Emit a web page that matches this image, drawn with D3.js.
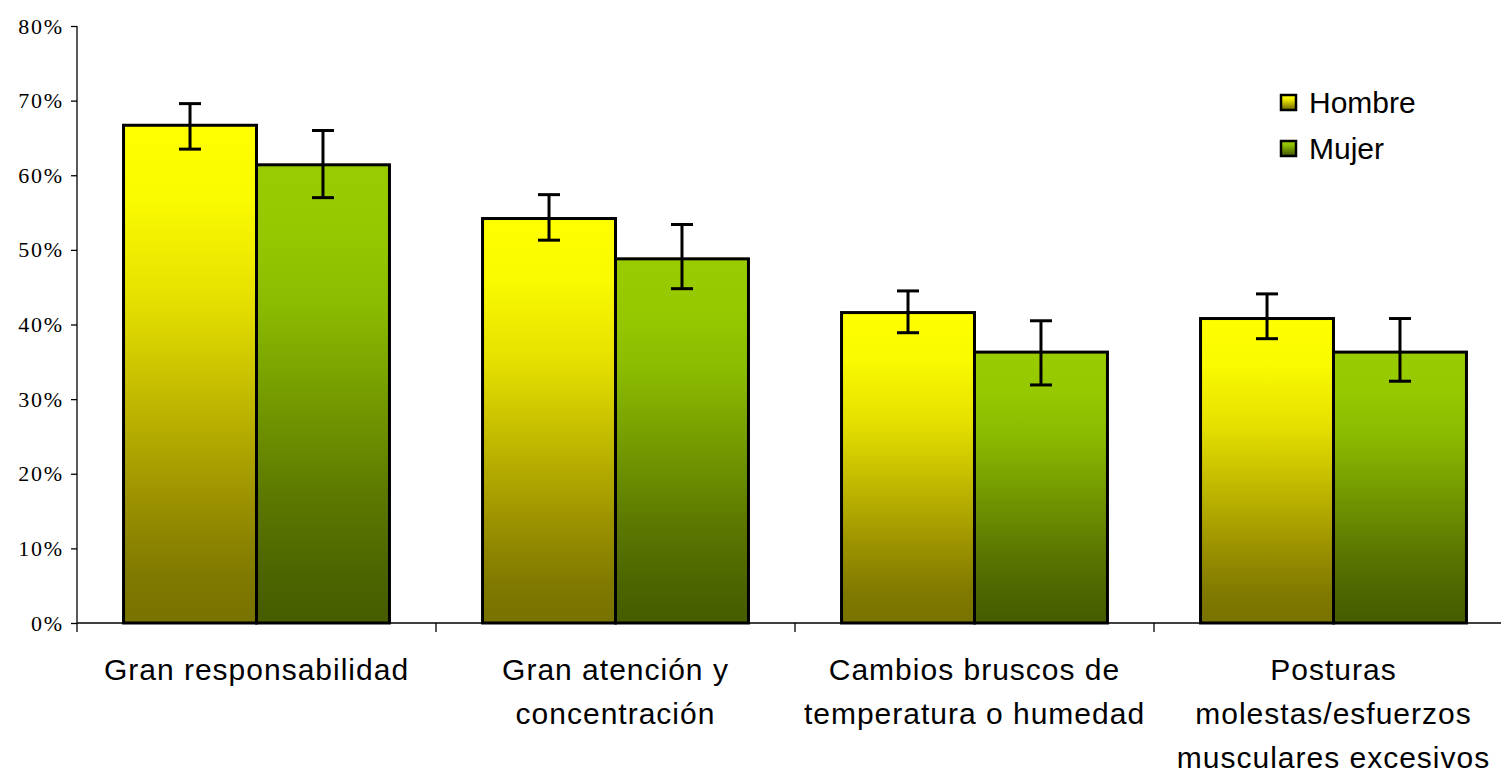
<!DOCTYPE html>
<html>
<head>
<meta charset="utf-8">
<script src="https://cdn.jsdelivr.net/npm/d3@7"></script>
<style>
  html, body { margin: 0; padding: 0; background: #fff; }
  svg { display: block; }
</style>
</head>
<body>
<svg id="chart" width="1501" height="774"></svg>
<script>
// Category labels (each entry is a list of wrapped lines)
const categories = [
  ["Gran responsabilidad"],
  ["Gran atención y", "concentración"],
  ["Cambios bruscos de", "temperatura o humedad"],
  ["Posturas", "molestas/esfuerzos", "musculares excesivos"]
];
const series = ["Hombre", "Mujer"];

// Percentages per category
const hombre = [66.7, 54.2, 41.6, 40.8];
const mujer  = [61.4, 48.8, 36.3, 36.3];

// Error bar bounds (low, high)
const hombreLow  = [63.5, 51.3, 38.9, 38.1];
const hombreHigh = [69.6, 57.4, 44.5, 44.1];
const mujerLow   = [57.0, 44.8, 31.9, 32.4];
const mujerHigh  = [66.0, 53.4, 40.5, 40.8];

const yTicks = [0, 10, 20, 30, 40, 50, 60, 70, 80];

const svg = d3.select("#chart");
const margin = { left: 77, top: 26, bottom: 623, right: 1513 };

const x0 = d3.scaleBand()
  .domain(d3.range(categories.length))
  .range([margin.left, margin.right])
  .paddingInner(0).paddingOuter(0);

const x1 = d3.scaleBand()
  .domain(series)
  .range([0, x0.bandwidth()])
  .paddingInner(0)
  .paddingOuter(0.35);

const y = d3.scaleLinear().domain([0, 80]).range([margin.bottom, margin.top]);

// Gradients for bars and legend swatches
const defs = svg.append("defs");
const grads = {
  Hombre: [[0, "#ffff00"], [0.15, "#fafa00"], [0.35, "#e6e000"], [0.75, "#9c9200"], [0.9, "#807a00"], [1, "#787200"]],
  Mujer: [[0, "#99cc00"], [0.15, "#96c800"], [0.3, "#8cbc00"], [0.73, "#5c7800"], [0.9, "#4c6400"], [1, "#465c00"]]
};
Object.entries(grads).forEach(([k, stops]) => {
  const g = defs.append("linearGradient")
    .attr("id", "grad-" + k)
    .attr("x1", 0).attr("y1", 0).attr("x2", 0).attr("y2", 1);
  stops.forEach(([o, c]) => g.append("stop").attr("offset", o).attr("stop-color", c));
});

// Data table for the grouped bars
const rows = categories.map((c, i) => ({
  i,
  values: [
    { key: "Hombre", v: hombre[i], lo: hombreLow[i], hi: hombreHigh[i] },
    { key: "Mujer", v: mujer[i], lo: mujerLow[i], hi: mujerHigh[i] }
  ]
}));

const groups = svg.append("g").selectAll("g")
  .data(rows).join("g")
  .attr("transform", d => `translate(${x0(d.i)},0)`);

groups.selectAll("rect")
  .data(d => d.values).join("rect")
  .attr("x", d => x1(d.key))
  .attr("y", d => y(d.v))
  .attr("width", x1.bandwidth())
  .attr("height", d => y(0) - y(d.v))
  .attr("fill", d => `url(#grad-${d.key})`)
  .attr("stroke", "#000")
  .attr("stroke-width", 3);

// Error bars
const eb = groups.selectAll("g.err")
  .data(d => d.values).join("g")
  .attr("class", "err")
  .attr("stroke", "#000")
  .attr("stroke-width", 3);
const cx = d => x1(d.key) + x1.bandwidth() / 2;
eb.append("line")
  .attr("x1", cx).attr("x2", cx)
  .attr("y1", d => y(d.lo)).attr("y2", d => y(d.hi));
eb.append("line")
  .attr("x1", d => cx(d) - 11).attr("x2", d => cx(d) + 11)
  .attr("y1", d => y(d.hi)).attr("y2", d => y(d.hi));
eb.append("line")
  .attr("x1", d => cx(d) - 11).attr("x2", d => cx(d) + 11)
  .attr("y1", d => y(d.lo)).attr("y2", d => y(d.lo));

// Y axis
const yAxis = svg.append("g")
  .attr("transform", `translate(${margin.left},0)`)
  .call(d3.axisLeft(y).tickValues(yTicks).tickSize(6).tickSizeOuter(0)
    .tickFormat(d => d + "%"));
yAxis.select(".domain").attr("stroke", "#000").attr("stroke-width", 1.3)
  .attr("d", `M0,${y(0)}V${y(80)}`);
yAxis.selectAll(".tick line").attr("stroke", "#000").attr("stroke-width", 1.3);
yAxis.selectAll(".tick text")
  .attr("x", -13)
  .attr("font-family", "'Liberation Serif', 'Times New Roman', serif")
  .attr("font-size", 22)
  .attr("letter-spacing", "1.8px")
  .attr("fill", "#000");

// X axis line with category separators
const xAxisG = svg.append("g");
xAxisG.append("line")
  .attr("x1", margin.left).attr("x2", 1501)
  .attr("y1", y(0)).attr("y2", y(0))
  .attr("stroke", "#000").attr("stroke-width", 1.3);
xAxisG.selectAll("line.sep")
  .data(d3.range(categories.length + 1)).join("line")
  .attr("class", "sep")
  .attr("x1", i => margin.left + i * x0.step())
  .attr("x2", i => margin.left + i * x0.step())
  .attr("y1", y(0)).attr("y2", y(0) + 9)
  .attr("stroke", "#000").attr("stroke-width", 1.3);

// Category labels
const labels = svg.append("g")
  .attr("font-family", "'Liberation Sans', Arial, sans-serif")
  .attr("font-size", 30)
  .attr("letter-spacing", "1px")
  .attr("fill", "#000")
  .attr("text-anchor", "middle");
categories.forEach((lines, i) => {
  const t = labels.append("text")
    .attr("x", x0(i) + x0.bandwidth() / 2)
    .attr("y", 680);
  lines.forEach((ln, j) => {
    t.append("tspan")
      .attr("x", x0(i) + x0.bandwidth() / 2)
      .attr("dy", j === 0 ? 0 : 44)
      .text(ln);
  });
});

// Legend
const legend = svg.append("g").attr("transform", "translate(1281,91)");
series.forEach((s, i) => {
  const g = legend.append("g").attr("transform", `translate(0,${i * 46})`);
  g.append("rect")
    .attr("x", 0).attr("y", 4)
    .attr("width", 15).attr("height", 15)
    .attr("fill", `url(#grad-${s})`)
    .attr("stroke", "#000").attr("stroke-width", 2.5);
  g.append("text")
    .attr("x", 28).attr("y", 22)
    .attr("font-family", "'Liberation Sans', Arial, sans-serif")
    .attr("font-size", 30)
    .attr("fill", "#000")
    .text(s);
});
</script>
</body>
</html>
